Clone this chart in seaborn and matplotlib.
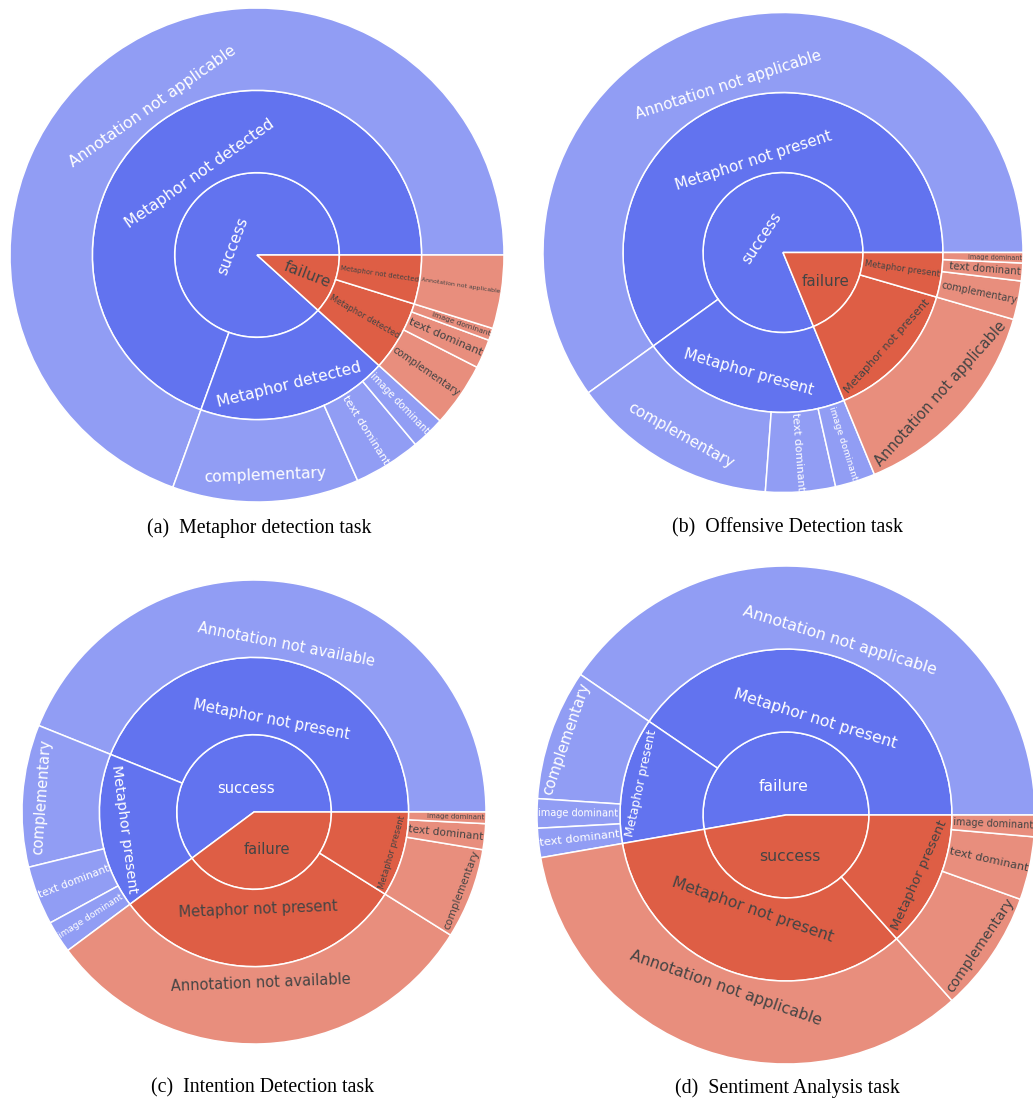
import numpy as np
import pandas as pd
import matplotlib
matplotlib.use("Agg")
import matplotlib.pyplot as plt
import seaborn as sns

# shares (%), listed counter-clockwise starting at 3 o'clock

# (a) Metaphor detection task
a_top = ["success"] * 4 + ["failure"] * 4
a_mid = ["Metaphor not detected", "Metaphor detected", "Metaphor detected", "Metaphor detected",
         "Metaphor detected", "Metaphor detected", "Metaphor detected", "Metaphor not detected"]
a_leaf = ["Annotation not applicable", "complementary", "text dominant", "image dominant",
          "complementary", "text dominant", "image dominant", "Annotation not applicable"]
a_val = [69.4, 12.2, 4.4, 2.2, 4.2, 1.9, 0.8, 4.8]

# (b) Offensive Detection task
b_top = ["success"] * 4 + ["failure"] * 4
b_mid = ["Metaphor not present", "Metaphor present", "Metaphor present", "Metaphor present",
         "Metaphor not present", "Metaphor present", "Metaphor present", "Metaphor present"]
b_leaf = ["Annotation not applicable", "complementary", "text dominant", "image dominant",
          "Annotation not applicable", "complementary", "text dominant", "image dominant"]
b_val = [60.0, 13.9, 4.7, 2.7, 14.3, 2.6, 1.2, 0.7]

# (c) Intention Detection task
c_top = ["success"] * 4 + ["failure"] * 4
c_mid = ["Metaphor not present", "Metaphor present", "Metaphor present", "Metaphor present",
         "Metaphor not present", "Metaphor present", "Metaphor present", "Metaphor present"]
c_leaf = ["Annotation not available", "complementary", "text dominant", "image dominant",
          "Annotation not available", "complementary", "text dominant", "image dominant"]
c_val = [43.9, 9.9, 4.1, 2.25, 30.9, 6.3, 1.8, 0.8]

# (d) Sentiment Analysis task
d_top = ["failure"] * 4 + ["success"] * 4
d_mid = ["Metaphor not present", "Metaphor present", "Metaphor present", "Metaphor present",
         "Metaphor not present", "Metaphor present", "Metaphor present", "Metaphor present"]
d_leaf = ["Annotation not applicable", "complementary", "image dominant", "text dominant",
          "Annotation not applicable", "complementary", "text dominant", "image dominant"]
d_val = [40.5, 8.5, 1.9, 1.9, 33.9, 7.9, 4.1, 1.4]

captions = ["(a)  Metaphor detection task", "(b)  Offensive Detection task",
            "(c)  Intention Detection task", "(d)  Sentiment Analysis task"]

sns.set_theme(style="white")
plt.rcParams["font.family"] = ["DejaVu Sans"]

W, H, DPI = 1033, 1104, 100
BLUE = np.array([98, 115, 239]) / 255
RED = np.array([222, 94, 69]) / 255
base_colors = [BLUE, RED]
text_colors = ["white", "#444444"]


def leaf_color(c):
    return 0.7 * c + 0.3 * np.ones(3)


def max_half(a, half, r, ring):
    q = a + 1 / (2 * np.tan(half))
    return r * min(1 / (np.sqrt(q * q + 0.5) + q), ring / (np.sqrt(a * a + ring / 2) + a))


def norm_rot(ang):
    return (np.degrees(ang) + 90) % 180 - 90


def fit_text(w, h, r0, r1, a0, a1, pad):
    # auto inside-text orientation of a sunburst sector (horizontal / radial / tangential)
    d = a1 - a0
    ad = (d + np.pi) % (2 * np.pi) - np.pi
    half = 0.5 * min(ad if ad != 0 else np.pi, np.pi)
    ring = 1 - r0 / r1
    mid = 0.5 * (a0 + a1)
    r = max(0.0, r1 - 2 * pad)
    # radial
    a = w / h
    s = max_half(a, half, r, ring)
    rad = (2 * s / h, np.cos(s / r) - a * s / r, norm_rot(mid))
    # tangential
    a = h / w
    s = max_half(a, half, r, ring)
    tan = (2 * s / w, np.cos(s / r) - a * s / r, norm_rot(mid + np.pi / 2))
    # horizontal
    rins = max(0.0, min(1 / (1 + 1 / abs(np.sin(half))), ring / 2))
    hor = (rins * r1 * 2 / np.hypot(w, h), 1 - rins, 0.0)
    if hor[0] >= 1:
        if d > np.pi:
            hor = (hor[0], tan[1], 0.0)
        return hor, mid
    best = hor
    for c in (rad, tan):
        if c[0] > best[0]:
            best = c
    return best, mid


def draw_sunburst(fig, renderer, top, mid, leaf, val, cx, cy, R, caption, cap_x, cap_y):
    ax = fig.add_axes([(cx - R) / W, 1 - (cy + R) / H, 2 * R / W, 2 * R / H])
    df = pd.DataFrame({"top": top, "mid": mid, "leaf": leaf, "value": val})
    order = list(dict.fromkeys(top))
    df["ci"] = df["top"].map({k: i for i, k in enumerate(order)})

    inner = df.groupby("top", sort=False).agg(value=("value", "sum"), ci=("ci", "first")).reset_index()
    middle = df.groupby(["top", "mid"], sort=False).agg(value=("value", "sum"), ci=("ci", "first")).reset_index()

    rings = [
        (inner, inner["top"], 0.0, 1 / 3, [base_colors[i] for i in inner["ci"]]),
        (middle, middle["mid"], 1 / 3, 2 / 3, [base_colors[i] for i in middle["ci"]]),
        (df, df["leaf"], 2 / 3, 1.0, [leaf_color(base_colors[i]) for i in df["ci"]]),
    ]
    font_px = 0.0628 * R
    pad = 0.25 * font_px
    total = df["value"].sum()
    for data, labels, r0, r1, cols in rings:
        ax.pie(data["value"], radius=r1, startangle=0, counterclock=True, colors=cols,
               wedgeprops=dict(width=r1 - r0, edgecolor="white", linewidth=1.1))
        cum = np.concatenate([[0], np.cumsum(data["value"].to_numpy())]) / total * 2 * np.pi
        for k, lab in enumerate(labels):
            t = ax.text(0, 0, lab, fontsize=font_px * 72 / DPI)
            w = t.get_window_extent(renderer=renderer).width
            t.remove()
            h = 1.2 * font_px
            (scale, rc, rot), m = fit_text(w, h, r0 * R, r1 * R, cum[k], cum[k + 1], pad)
            scale = min(scale, 1.0)
            ax.text(rc * r1 * np.cos(m), rc * r1 * np.sin(m), lab,
                    fontsize=font_px * scale * 72 / DPI, rotation=rot, rotation_mode="anchor",
                    ha="center", va="center", color=text_colors[data["ci"].iloc[k]])
    ax.set_xlim(-1, 1)
    ax.set_ylim(-1, 1)
    ax.set_aspect("equal")
    ax.axis("off")
    fig.text(cap_x / W, 1 - cap_y / H, caption, ha="center", va="center",
             family="Liberation Serif", fontsize=14.3, color="black")


fig = plt.figure(figsize=(W / DPI, H / DPI), dpi=DPI)
renderer = fig.canvas.get_renderer()
draw_sunburst(fig, renderer, a_top, a_mid, a_leaf, a_val, 257, 255, 247, captions[0], 259, 528)
draw_sunburst(fig, renderer, b_top, b_mid, b_leaf, b_val, 783, 252.5, 240, captions[1], 788, 528)
draw_sunburst(fig, renderer, c_top, c_mid, c_leaf, c_val, 254, 812, 232, captions[2], 263, 1088)
draw_sunburst(fig, renderer, d_top, d_mid, d_leaf, d_val, 786, 815, 249, captions[3], 787, 1088)
fig.savefig("out.png", dpi=DPI)
